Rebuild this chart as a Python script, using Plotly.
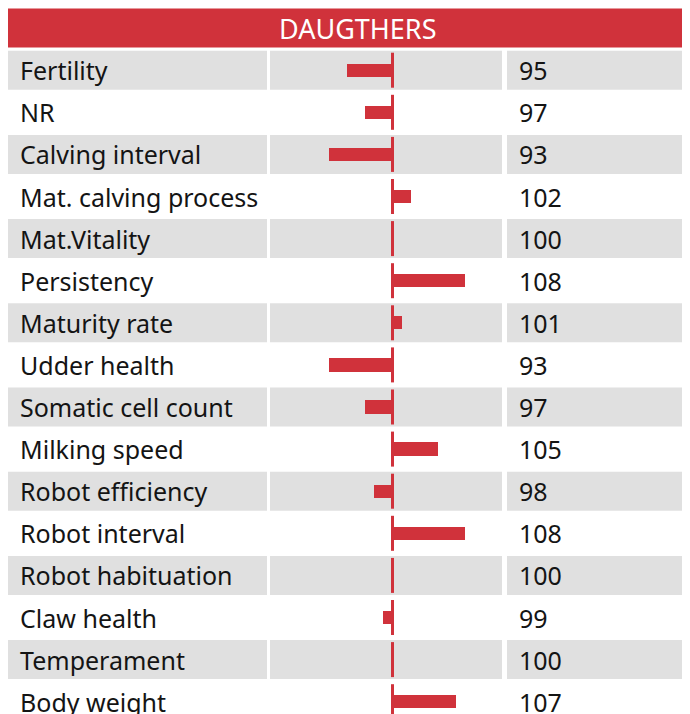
import plotly.graph_objects as go

traits = ["Fertility", "NR", "Calving interval", "Mat. calving process", "Mat.Vitality",
          "Persistency", "Maturity rate", "Udder health", "Somatic cell count",
          "Milking speed", "Robot efficiency", "Robot interval", "Robot habituation",
          "Claw health", "Temperament", "Body weight"]
values = [95, 97, 93, 102, 100, 108, 101, 93, 97, 105, 98, 108, 100, 99, 100, 107]
header = "DAUGTHERS"
baseline = 100

RED = "#d0323b"
GREY = "#e0e0e0"
TXT = "#141414"
FONT = "Noto Sans"
W, H = 682, 706
OFF = 8  # page body margin

rows = list(range(len(traits)))
fig = go.Figure()

fig.add_trace(go.Bar(
    y=rows, x=[v - baseline for v in values], base=[baseline] * len(values),
    orientation="h", width=0.315, marker=dict(color=RED, line=dict(width=0)),
    xaxis="x2", yaxis="y", hoverinfo="skip", showlegend=False))
fig.add_trace(go.Scatter(
    y=rows, x=[baseline] * len(rows), mode="markers",
    marker=dict(symbol="line-ns", size=25, line=dict(width=3, color=RED)),
    xaxis="x2", yaxis="y", hoverinfo="skip", showlegend=False))

def px(x):
    return (x - OFF) / W

half = 0.463
shapes = []
shapes.append(dict(type="rect", xref="paper", yref="y", x0=px(7), x1=px(720),
                   y0=-1 - half, y1=-1 + half, fillcolor=RED, line=dict(width=0), layer="below"))
cols = [(7, 267), (270, 502), (507, 720)]
for i in rows:
    if i % 2 == 0:
        for a, b in cols:
            shapes.append(dict(type="rect", xref="paper", yref="y", x0=px(a), x1=px(b),
                               y0=i - half, y1=i + half, fillcolor=GREY,
                               line=dict(width=0), layer="below"))

ann = [dict(text=header, xref="paper", yref="y", x=px(357.5), y=-1, xanchor="center",
            yanchor="middle", showarrow=False, font=dict(family=FONT, size=27, color="white"))]
for i, (t, v) in enumerate(zip(traits, values)):
    ann.append(dict(text=t, xref="paper", yref="y", x=px(17.5), y=i, xanchor="left",
                    yanchor="middle", showarrow=False, font=dict(family=FONT, size=25, color=TXT)))
    ann.append(dict(text=str(v), xref="paper", yref="y", x=px(517), y=i, xanchor="left",
                    yanchor="middle", showarrow=False, font=dict(family=FONT, size=25, color=TXT)))

pitch = 42.1
top_c = 70.2 - OFF
fig.update_layout(
    width=W, height=H, margin=dict(l=0, r=0, t=0, b=0),
    paper_bgcolor="white", plot_bgcolor="rgba(0,0,0,0)",
    shapes=shapes, annotations=ann, bargap=0,
    yaxis=dict(range=[(H - top_c) / pitch, -top_c / pitch], visible=False, fixedrange=True),
    xaxis=dict(visible=False, range=[0, 1]),
    xaxis2=dict(domain=[px(270), px(502)], range=[baseline - (392.5 - 270) / 9.07,
                                                  baseline + (502 - 392.5) / 9.07],
                visible=False, anchor="y"),
)
fig.write_html("out.html")
